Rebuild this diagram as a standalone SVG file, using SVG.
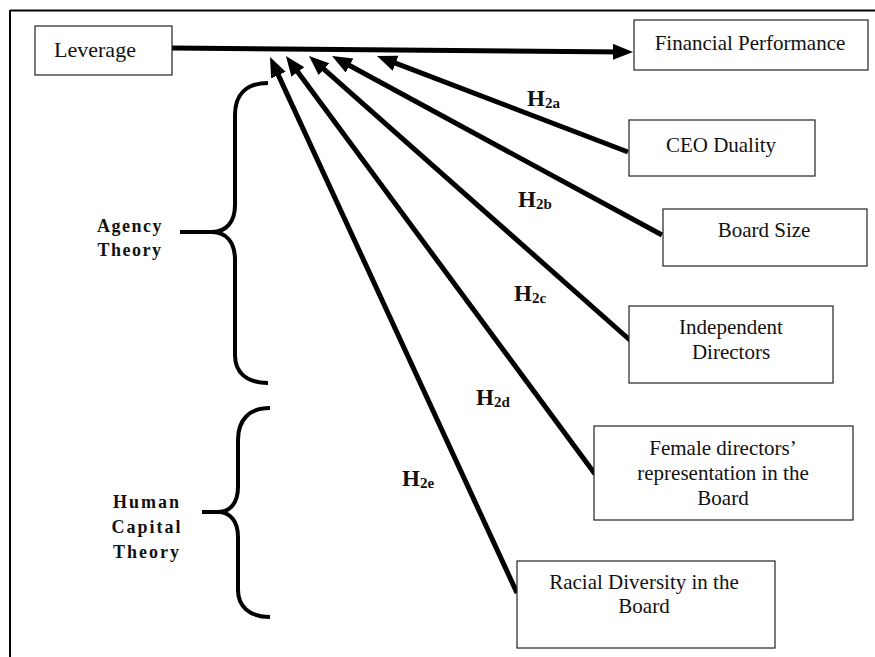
<svg xmlns="http://www.w3.org/2000/svg" width="875" height="657" viewBox="0 0 875 657">
<style>
.box{fill:#fff;stroke:#222;stroke-width:1.2}
text{font-family:'Liberation Serif','Times New Roman',Tinos,'Nimbus Roman','DejaVu Serif',serif}
.t{font-size:21px;fill:#111;text-anchor:middle}
.h{font-size:23px;font-weight:bold;fill:#111}
.sub{font-size:15px}
.th{font-size:18px;font-weight:bold;fill:#111;text-anchor:middle;letter-spacing:1.5px}
.c{fill:none;stroke:#000;stroke-width:5}
.br{fill:none;stroke:#000;stroke-width:4}
</style>
<defs>
<marker id="ah" markerUnits="userSpaceOnUse" markerWidth="22" markerHeight="18" refX="10" refY="8" orient="auto">
<path d="M0,0 L20,8 L0,16 z" fill="#000"/>
</marker>
</defs>
<rect x="0" y="0" width="875" height="657" fill="#fff"/>
<g id="frame">
<line x1="10" y1="10.5" x2="875" y2="10.5" stroke="#000" stroke-width="2"/>
<line x1="10" y1="10" x2="10" y2="657" stroke="#000" stroke-width="2"/>
</g>
<g id="connectors">
<line class="c" x1="172" y1="48" x2="623" y2="51.9" marker-end="url(#ah)"/>
<line class="c" x1="628" y1="152" x2="386.3" y2="59.6" marker-end="url(#ah)"/>
<line class="c" x1="662" y1="235" x2="340.8" y2="60.8" marker-end="url(#ah)"/>
<line class="c" x1="631" y1="341" x2="316.5" y2="62.6" marker-end="url(#ah)"/>
<line class="c" x1="595" y1="474" x2="291.9" y2="64" marker-end="url(#ah)"/>
<line class="c" x1="517" y1="593" x2="274.2" y2="66.1" marker-end="url(#ah)"/>
</g>
<g id="labels">
<text class="h" x="527" y="106">H<tspan class="sub" dy="2">2a</tspan></text>
<text class="h" x="518" y="207">H<tspan class="sub" dy="2">2b</tspan></text>
<text class="h" x="514" y="301">H<tspan class="sub" dy="2">2c</tspan></text>
<text class="h" x="476" y="405">H<tspan class="sub" dy="2">2d</tspan></text>
<text class="h" x="402" y="486">H<tspan class="sub" dy="2">2e</tspan></text>
</g>
<g id="leverage">
<rect class="box" x="35" y="26" width="137" height="49"/>
<text class="t" x="95" y="57" style="font-size:22px">Leverage</text>
</g>
<g id="financial-performance">
<rect class="box" x="634" y="20" width="234" height="50"/>
<text class="t" x="750" y="50">Financial Performance</text>
</g>
<g id="ceo-duality">
<rect class="box" x="629" y="120" width="186" height="56"/>
<text class="t" x="721" y="152">CEO Duality</text>
</g>
<g id="board-size">
<rect class="box" x="663" y="209" width="204" height="57"/>
<text class="t" x="764" y="237">Board Size</text>
</g>
<g id="independent-directors">
<rect class="box" x="629" y="306" width="204" height="77"/>
<text class="t" x="731" y="334">Independent</text>
<text class="t" x="731" y="359">Directors</text>
</g>
<g id="female-directors">
<rect class="box" x="594" y="426" width="259" height="94"/>
<text class="t" x="723" y="455">Female directors’</text>
<text class="t" x="723" y="480">representation in the</text>
<text class="t" x="723" y="505">Board</text>
</g>
<g id="racial-diversity">
<rect class="box" x="517" y="561" width="258" height="87"/>
<text class="t" x="644" y="589">Racial Diversity in the</text>
<text class="t" x="644" y="613">Board</text>
</g>
<g id="agency-theory">
<path class="br" d="M268,83 C246,83 235,95 235,115 L235,205 C235,222 226,232 212,232 L180,232 M212,232 C226,232 235,242 235,260 L235,355 C235,372 246,383 268,383"/>
<text class="th" x="130" y="232">Agency</text>
<text class="th" x="130" y="256">Theory</text>
</g>
<g id="human-capital-theory">
<path class="br" d="M270,408 C249,408 238,420 238,440 L238,487 C238,503 230,512 218,512 L202,512 M218,512 C230,512 238,521 238,537 L238,590 C238,606 249,617 270,617"/>
<text class="th" x="147" y="508" style="letter-spacing:2px">Human</text>
<text class="th" x="147" y="533" style="letter-spacing:2px">Capital</text>
<text class="th" x="147" y="558" style="letter-spacing:2px">Theory</text>
</g>
</svg>
